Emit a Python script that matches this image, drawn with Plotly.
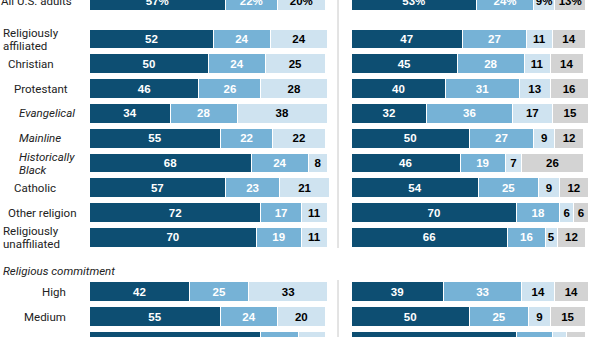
import plotly.graph_objects as go

# ---- data ----
categories = ["All U.S. adults", "Religiously affiliated", "Christian", "Protestant",
              "Evangelical", "Mainline", "Historically Black", "Catholic",
              "Other religion", "Religiously unaffiliated", "High", "Medium", "Low"]

left_a = [57, 52, 50, 46, 34, 55, 68, 57, 72, 70, 42, 55, 72]
left_b = [22, 24, 24, 26, 28, 22, 24, 23, 17, 19, 25, 24, 16]
left_c = [20, 24, 25, 28, 38, 22, 8, 21, 11, 11, 33, 20, 11]

right_a = [53, 47, 45, 40, 32, 50, 46, 54, 70, 66, 39, 50, 70]
right_b = [24, 27, 28, 31, 36, 27, 19, 25, 18, 16, 33, 25, 15]
right_c = [9, 11, 11, 13, 17, 9, 7, 9, 6, 5, 14, 9, 6]
right_d = [13, 14, 14, 16, 15, 12, 26, 12, 6, 12, 14, 15, 8]

label_text = ["All U.S. adults", "Religiously<br>affiliated", "Christian", "Protestant",
              "<i>Evangelical</i>", "<i>Mainline</i>", "<i>Historically<br>Black</i>",
              "Catholic", "Other religion", "Religiously<br>unaffiliated",
              "High", "Medium", "Low"]
section_label = "<i>Religious commitment</i>"

# ---- layout helpers ----
W, H = 600, 337
row_pos = [0, 1.53, 2.53, 3.53, 4.53, 5.53, 6.53, 7.53, 8.53, 9.53, 11.73, 12.73, 13.73]
ROW_PX = 24.8
TOP_PX = 1.0
label_x_px = [-1, 1, 6, 12, 17, 17, 17, 12, 6, 1, 68, 68, 68]
label_anchor = ["left"] * 10 + ["right"] * 3
LINE_PX = 13.0

DARK = "#0d4e72"
MED = "#76b2d6"
LIGHT = "#cfe3f0"
GRAY = "#d3d3d3"
LABEL_FONT = "Roboto"
LABEL_SIZE = 11.5

def fmt(vals):
    return [f"{v}%" if i == 0 else str(v) for i, v in enumerate(vals)]

fig = go.Figure()

def add(vals, color, tcolor, xa):
    fig.add_trace(go.Bar(
        x=vals, y=row_pos, orientation="h", width=0.8,
        marker=dict(color=color, line=dict(color="white", width=1)),
        text=fmt(vals), textposition="inside", insidetextanchor="middle",
        textangle=0, constraintext="none",
        textfont=dict(family="Liberation Sans", size=11.5, color=tcolor, weight="bold"),
        xaxis=xa, yaxis="y", hoverinfo="skip", showlegend=False, cliponaxis=False,
    ))

add(left_a, DARK, "white", "x")
add(left_b, MED, "white", "x")
add(left_c, LIGHT, "black", "x")
add(right_a, DARK, "white", "x2")
add(right_b, MED, "white", "x2")
add(right_c, LIGHT, "black", "x2")
add(right_d, GRAY, "black", "x2")

y_top = -TOP_PX / ROW_PX
y_bot = (H - TOP_PX) / ROW_PX

XMAX = 102
PX_L = 2.38
PX_R = 2.37
fig.update_layout(
    width=W, height=H, margin=dict(l=0, r=0, t=0, b=0),
    paper_bgcolor="white", plot_bgcolor="white", barmode="stack",
    xaxis=dict(domain=[89.5 / W, (89.5 + XMAX * PX_L) / W], range=[0, XMAX],
               visible=False, fixedrange=True),
    xaxis2=dict(domain=[351 / W, (351 + XMAX * PX_R) / W], range=[0, XMAX],
                visible=False, fixedrange=True),
    yaxis=dict(range=[y_bot, y_top], visible=False, fixedrange=True),
    font=dict(family=LABEL_FONT, size=LABEL_SIZE, color="#222"),
)

for txt, xp, anc, yp in zip(label_text, label_x_px, label_anchor, row_pos):
    italic = txt.startswith("<i>")
    core = txt.replace("<i>", "").replace("</i>", "")
    lines = core.split("<br>")
    n = len(lines)
    for k, line in enumerate(lines):
        off = (k - (n - 1) / 2) * LINE_PX / ROW_PX + 0.02 * (n - 1)
        t = f"<i>{line}</i>" if italic else line
        fig.add_annotation(text=t, x=xp / W, xref="paper", y=yp + off, yref="y",
                           xanchor=anc, yanchor="middle", align="left", showarrow=False,
                           font=dict(family=LABEL_FONT, size=LABEL_SIZE, color="#222"))

fig.add_annotation(text=section_label, x=1 / W, xref="paper",
                   y=(271 - TOP_PX) / ROW_PX, yref="y", xanchor="left", yanchor="middle",
                   showarrow=False, font=dict(family=LABEL_FONT, size=LABEL_SIZE, color="#222"))

# divider lines
for y0, y1 in [(0, 248), (280, H)]:
    fig.add_shape(type="line", xref="paper", yref="paper", x0=338 / W, x1=338 / W,
                  y0=1 - y1 / H, y1=1 - y0 / H, line=dict(color="#c8c8c8", width=1))

fig.write_html("out.html")
